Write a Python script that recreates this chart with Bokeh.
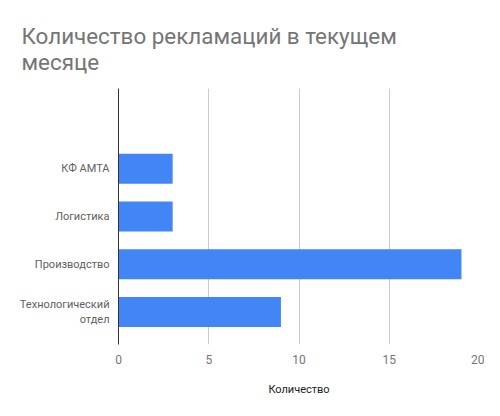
from bokeh.plotting import figure
from bokeh.models import Range1d, FactorRange, FixedTicker
from bokeh.embed import file_html
from bokeh.resources import INLINE

title_text = "Количество рекламаций в текущем\nмесяце"
categories = ["КФ АМТА", "Логистика", "Производство", "Технологический\nотдел"]
values = [3, 3, 19, 9]
x_ticks = [0, 5, 10, 15, 20]
x_label = "Количество"

# bottom-to-top factor order, plus an empty slot at the top
factors = list(reversed(categories)) + [" "]

p = figure(
    y_range=FactorRange(factors=factors, range_padding=0.183, range_padding_units="absolute"),
    x_range=Range1d(0, 20),
    width=484, height=400,
    min_border_left=118, min_border_right=5, min_border_top=88, min_border_bottom=56,
    output_backend="svg", toolbar_location=None,
    title=title_text,
)
p.title.text_font = "Roboto"
p.title.text_font_size = "22.4px"
p.title.text_font_style = "normal"
p.title.text_color = "#757575"
p.title.align = "left"
p.title.offset = -97
p.title.standoff = 27

p.hbar(y=list(reversed(categories)), right=list(reversed(values)), height=0.63,
       left=0, color="#4285F4", line_color=None)

p.outline_line_color = None
p.background_fill_color = "white"
p.border_fill_color = "white"

p.xaxis.ticker = FixedTicker(ticks=x_ticks)
p.xaxis.axis_line_color = None
p.xaxis.major_tick_line_color = None
p.xaxis.minor_tick_line_color = None
p.xaxis.major_label_text_font = "Roboto"
p.xaxis.major_label_text_font_size = "12px"
p.xaxis.major_label_text_color = "#757575"
p.xaxis.major_label_standoff = 4
p.xaxis.axis_label = x_label
p.xaxis.axis_label_text_font = "Roboto"
p.xaxis.axis_label_text_font_size = "11px"
p.xaxis.axis_label_text_font_style = "normal"
p.xaxis.axis_label_text_color = "#222222"
p.xaxis.axis_label_standoff = 16

p.yaxis.axis_line_color = "#333333"
p.yaxis.major_tick_line_color = None
p.yaxis.minor_tick_line_color = None
p.yaxis.major_label_text_font = "Roboto"
p.yaxis.major_label_text_font_size = "11px"
p.yaxis.major_label_text_color = "#616161"
p.yaxis.major_label_standoff = 3

p.ygrid.grid_line_color = None
p.xgrid.grid_line_color = "#cccccc"

open("out.html", "w").write(file_html(p, INLINE))
